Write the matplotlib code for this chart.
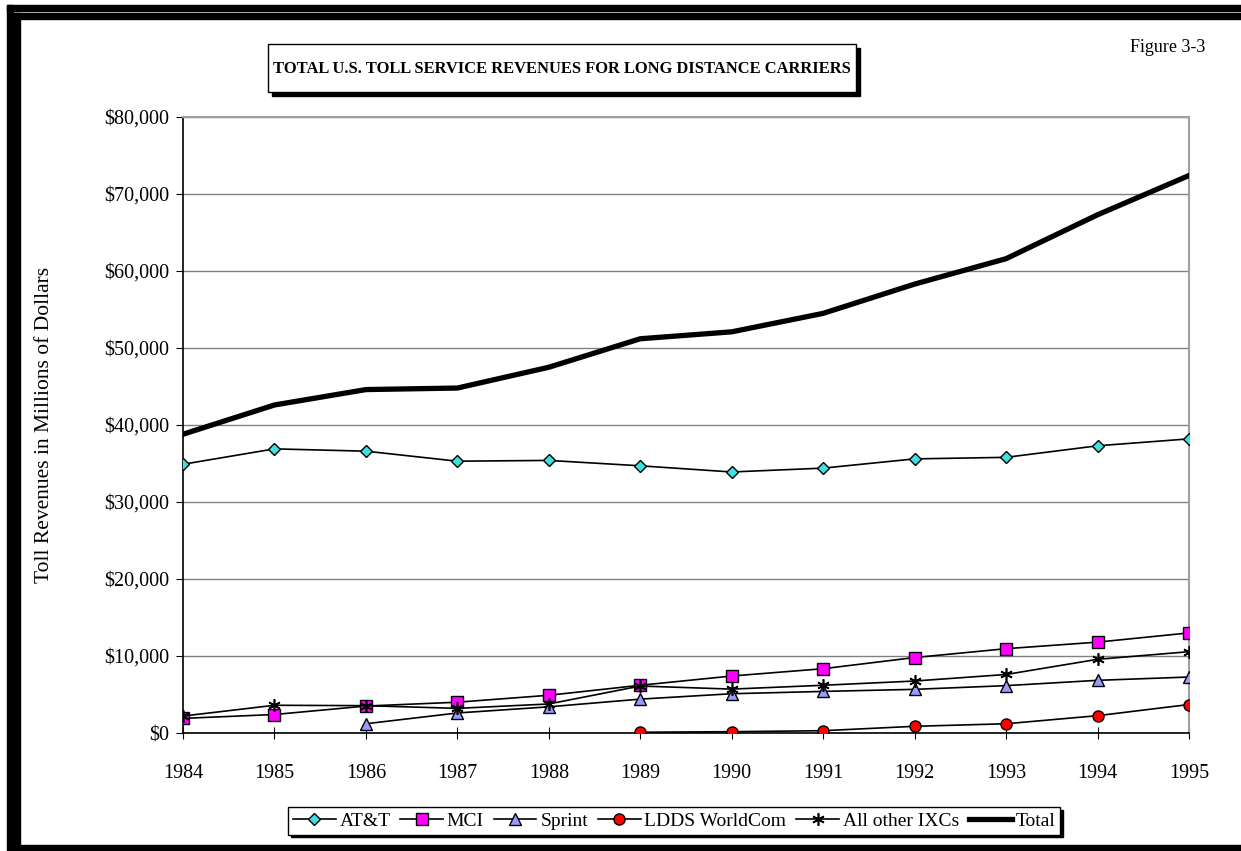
import matplotlib
matplotlib.use("Agg")
import matplotlib.pyplot as plt
from matplotlib.patches import Rectangle
from matplotlib.ticker import FuncFormatter
import numpy as np

plt.rcParams['font.family'] = ['Liberation Serif', 'DejaVu Serif']

# Data (millions of dollars)
years = [1984, 1985, 1986, 1987, 1988, 1989, 1990, 1991, 1992, 1993, 1994, 1995]
att = [34900, 36900, 36600, 35300, 35400, 34700, 33900, 34400, 35600, 35800, 37300, 38200]
mci = [1900, 2400, 3500, 4000, 4900, 6200, 7400, 8350, 9800, 10950, 11800, 13000]
sprint_years = [1986, 1987, 1988, 1989, 1990, 1991, 1992, 1993, 1994, 1995]
sprint = [1200, 2600, 3400, 4400, 5100, 5400, 5670, 6150, 6840, 7270]
ldds_years = [1989, 1990, 1991, 1992, 1993, 1994, 1995]
ldds = [100, 170, 300, 870, 1200, 2250, 3700]
other = [2200, 3600, 3550, 3200, 3770, 6100, 5700, 6200, 6750, 7600, 9570, 10560]
total = [38800, 42600, 44600, 44800, 47500, 51200, 52100, 54500, 58300, 61600, 67300, 72400]

W, H = 1241, 851
fig = plt.figure(figsize=(W / 100, H / 100), dpi=100)

# page frame and title box, drawn in pixel space
frame = fig.add_axes([0, 0, 1, 1])
frame.set_xlim(0, W)
frame.set_ylim(H, 0)
frame.axis('off')
frame.add_patch(Rectangle((7, 5), 6, H, color='black'))
frame.add_patch(Rectangle((7, 5), W, 6, color='black'))
frame.add_patch(Rectangle((14, 13), 6, H, color='black'))
frame.add_patch(Rectangle((14, 13), W, 6, color='black'))
frame.add_patch(Rectangle((14, 845), W, 8, color='black'))
frame.add_patch(Rectangle((272, 48), 588, 48, color='black'))
frame.add_patch(Rectangle((268, 44), 588, 48, facecolor='white', edgecolor='black', lw=1))
frame.text(562, 69, 'TOTAL U.S. TOLL SERVICE REVENUES FOR LONG DISTANCE CARRIERS',
           ha='center', va='center', fontsize=11.9, fontweight='bold')
frame.text(1205, 48, 'Figure 3-3', ha='right', va='center', fontsize=13)

ax = fig.add_axes([183 / W, 1 - 733 / H, (1189 - 183) / W, (733 - 117) / H])
ax.set_xlim(1984, 1995)
ax.set_ylim(0, 80000)

lw = 1.2
ax.plot(years, att, color='black', lw=lw, marker='D', ms=6.5, mfc='#40E0E0', mec='black', mew=1, label='AT&T', zorder=3)
ax.plot(years, mci, color='black', lw=lw, marker='s', ms=8, mfc='#FF00FF', mec='black', mew=1, label='MCI', zorder=3)
ax.plot(sprint_years, sprint, color='black', lw=lw, marker='^', ms=8, mfc='#9999FF', mec='black', mew=1, label='Sprint', zorder=3)
ax.plot(ldds_years, ldds, color='black', lw=lw, marker='o', ms=8, mfc='#FF0000', mec='black', mew=1, label='LDDS WorldCom', zorder=3)
ax.plot(years, other, color='black', lw=lw, marker=(6, 2, 0), ms=9, mec='black', mew=1.2, label='All other IXCs', zorder=3)
ax.plot(years, total, color='black', lw=3.8, label='Total', zorder=3)

ax.set_yticks(np.arange(0, 80001, 10000))
ax.set_xticks(years)
ax.yaxis.set_major_formatter(FuncFormatter(lambda v, p: '${:,.0f}'.format(v)))
ax.grid(axis='y', color='#808080', lw=1)
ax.set_axisbelow(True)
for s in ['top', 'right']:
    ax.spines[s].set_color('#A0A0A0')
    ax.spines[s].set_linewidth(1.5)
for s in ['left', 'bottom']:
    ax.spines[s].set_color('black')
    ax.spines[s].set_linewidth(1.2)
ax.tick_params(axis='y', direction='out', length=5, labelsize=14.5, pad=5)
ax.tick_params(axis='x', direction='inout', length=8, labelsize=14.5, pad=18)
ax.set_ylabel('Toll Revenues in Millions of Dollars', fontsize=15.5)
ax.yaxis.set_label_coords(-0.128, 0.5)

leg = ax.legend(loc='center', bbox_to_anchor=(674 / W, 1 - 821 / H), bbox_transform=fig.transFigure,
                ncol=6, fontsize=14, frameon=True, fancybox=False, edgecolor='black',
                shadow={'color': 'black', 'alpha': 1}, handlelength=2.2, handletextpad=0.2,
                columnspacing=0.5, borderpad=0.25, borderaxespad=0)
leg.get_frame().set_linewidth(1)
leg.get_frame().set_alpha(1)

fig.savefig('out.png', dpi=100)
